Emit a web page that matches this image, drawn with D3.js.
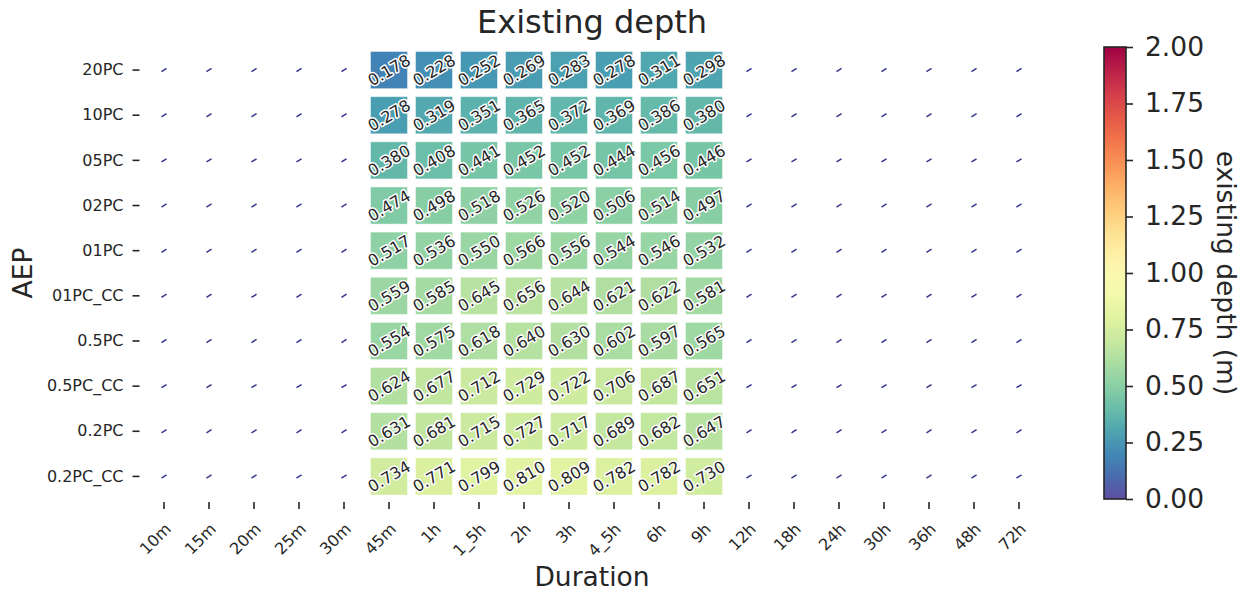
<!DOCTYPE html>
<html>
<head>
<meta charset="utf-8">
<script src="https://cdn.jsdelivr.net/npm/d3@7"></script>
<style>
  html, body { margin: 0; padding: 0; background: #fff; }
  svg text { font-family: "DejaVu Sans", sans-serif; fill: #262626; }
</style>
</head>
<body>
<svg id="chart" width="1253" height="596"></svg>
<script>
// Storm durations (columns) and annual exceedance probabilities (rows)
const durations = ["10m","15m","20m","25m","30m","45m","1h","1_5h","2h","3h","4_5h","6h","9h","12h","18h","24h","30h","36h","48h","72h"];
const aeps = ["20PC","10PC","05PC","02PC","01PC","01PC_CC","0.5PC","0.5PC_CC","0.2PC","0.2PC_CC"];

// Durations with modelled results
const modelledDurations = ["45m","1h","1_5h","2h","3h","4_5h","6h","9h"];

// Existing depth (m), one list per AEP, in modelledDurations order
const depth20PC    = [0.178, 0.228, 0.252, 0.269, 0.283, 0.278, 0.311, 0.298];
const depth10PC    = [0.278, 0.319, 0.351, 0.365, 0.372, 0.369, 0.386, 0.380];
const depth05PC    = [0.380, 0.408, 0.441, 0.452, 0.452, 0.444, 0.456, 0.446];
const depth02PC    = [0.474, 0.498, 0.518, 0.526, 0.520, 0.506, 0.514, 0.497];
const depth01PC    = [0.517, 0.536, 0.550, 0.566, 0.556, 0.544, 0.546, 0.532];
const depth01PC_CC = [0.559, 0.585, 0.645, 0.656, 0.644, 0.621, 0.622, 0.581];
const depth05PC_   = [0.554, 0.575, 0.618, 0.640, 0.630, 0.602, 0.597, 0.565];
const depth05PC_CC = [0.624, 0.677, 0.712, 0.729, 0.722, 0.706, 0.687, 0.651];
const depth02PC_   = [0.631, 0.681, 0.715, 0.727, 0.717, 0.689, 0.682, 0.647];
const depth02PC_CC = [0.734, 0.771, 0.799, 0.810, 0.809, 0.782, 0.782, 0.730];

const depthRows = [depth20PC, depth10PC, depth05PC, depth02PC, depth01PC,
                   depth01PC_CC, depth05PC_, depth05PC_CC, depth02PC_, depth02PC_CC];

// Colour bar ticks
const colorTicks = [0, 0.25, 0.5, 0.75, 1.0, 1.25, 1.5, 1.75, 2.0];
const colorDomain = [0, 2];

// Build the full grid; durations without results are null
const cells = [];
aeps.forEach((a, i) => {
  durations.forEach(d => {
    const k = modelledDurations.indexOf(d);
    cells.push({ aep: a, dur: d, value: k >= 0 ? depthRows[i][k] : null });
  });
});

const svg = d3.select("#chart");
const plot = { left: 141.5, right: 1041.5, top: 47.5, bottom: 499 };

const x = d3.scaleBand().domain(durations).range([plot.left, plot.right]);
const y = d3.scaleBand().domain(aeps).range([plot.top, plot.bottom]);

// Spectral, reversed: low depth blue, high depth red
const color = d3.scaleSequential(t => d3.interpolateSpectral(1 - t)).domain(colorDomain);

const gap = 4;
const g = svg.append("g");

const filled = cells.filter(c => c.value !== null);
const empty = cells.filter(c => c.value === null);

g.selectAll("rect.cell").data(filled).join("rect")
  .attr("class", "cell")
  .attr("x", d => x(d.dur) + gap)
  .attr("y", d => y(d.aep) + gap)
  .attr("width", x.bandwidth() - 2 * gap)
  .attr("height", y.bandwidth() - 2 * gap)
  .attr("fill", d => color(d.value))
  .attr("stroke", "rgba(255,255,255,0.45)")
  .attr("stroke-width", 1);

// Cell annotations, tilted, with a white halo
const fmt = d3.format(".3f");
const ann = g.selectAll("g.ann").data(filled).join("g")
  .attr("class", "ann")
  .attr("transform", d => `translate(${x(d.dur) + x.bandwidth() / 2},${y(d.aep) + y.bandwidth() / 2}) rotate(-30)`);
ann.append("text")
  .attr("text-anchor", "middle").attr("dy", "0.36em")
  .style("font-size", "16px")
  .style("fill", "none").style("stroke", "#fff").style("stroke-width", 3).style("stroke-linejoin", "round")
  .text(d => fmt(d.value));
ann.append("text")
  .attr("text-anchor", "middle").attr("dy", "0.36em")
  .style("font-size", "16px")
  .text(d => fmt(d.value));

// Small markers in cells with no result
g.selectAll("line.nan").data(empty).join("line")
  .attr("class", "nan")
  .attr("transform", d => `translate(${x(d.dur) + x.bandwidth() / 2},${y(d.aep) + y.bandwidth() / 2}) rotate(-32)`)
  .attr("x1", -3).attr("x2", 3).attr("y1", 0).attr("y2", 0)
  .attr("stroke", "#35358f").attr("stroke-width", 1.5);

// X axis
const xAxis = svg.append("g").attr("transform", `translate(0,${plot.bottom + 3})`)
  .call(d3.axisBottom(x).tickSize(7).tickPadding(4));
xAxis.select(".domain").remove();
xAxis.selectAll(".tick line").attr("stroke", "#262626").attr("stroke-width", 1.6);
xAxis.selectAll(".tick text")
  .style("font-size", "16px")
  .attr("text-anchor", "end")
  .attr("dy", null)
  .attr("x", 0).attr("y", 0)
  .attr("transform", "translate(8,28) rotate(-45)");

// Y axis
const yAxis = svg.append("g").attr("transform", `translate(${plot.left - 2},0)`)
  .call(d3.axisLeft(y).tickSize(7).tickPadding(9));
yAxis.select(".domain").remove();
yAxis.selectAll(".tick line").attr("stroke", "#262626").attr("stroke-width", 1.6);
yAxis.selectAll(".tick text").style("font-size", "16px");

// Titles
svg.append("text").attr("x", 592).attr("y", 33)
  .attr("text-anchor", "middle").style("font-size", "32px").text("Existing depth");
svg.append("text").attr("x", 592).attr("y", 586)
  .attr("text-anchor", "middle").style("font-size", "26.5px").text("Duration");
svg.append("text").attr("transform", "translate(32,273) rotate(-90)")
  .attr("text-anchor", "middle").style("font-size", "26.5px").text("AEP");

// Colour bar
const cb = { x: 1104, w: 22, top: 47, bottom: 499 };
const defs = svg.append("defs");
const grad = defs.append("linearGradient").attr("id", "cbgrad")
  .attr("x1", 0).attr("x2", 0).attr("y1", 1).attr("y2", 0);
d3.range(0, 1.0001, 0.05).forEach(t => {
  grad.append("stop").attr("offset", t)
    .attr("stop-color", color(colorDomain[0] + t * (colorDomain[1] - colorDomain[0])));
});
svg.append("rect").attr("x", cb.x).attr("y", cb.top)
  .attr("width", cb.w).attr("height", cb.bottom - cb.top)
  .attr("fill", "url(#cbgrad)")
  .attr("stroke", "#262626").attr("stroke-width", 1.6);

const cbScale = d3.scaleLinear().domain(colorDomain).range([cb.bottom, cb.top]);
const cbAxis = svg.append("g").attr("transform", `translate(${cb.x + cb.w},0)`)
  .call(d3.axisRight(cbScale).tickValues(colorTicks).tickFormat(d3.format(".2f")).tickSize(7).tickPadding(12));
cbAxis.select(".domain").remove();
cbAxis.selectAll(".tick line").attr("stroke", "#262626").attr("stroke-width", 1.6);
cbAxis.selectAll(".tick text").style("font-size", "26.5px");

svg.append("text").attr("transform", "translate(1217,273) rotate(90)")
  .attr("text-anchor", "middle").style("font-size", "26.5px").text("existing depth (m)");
</script>
</body>
</html>
